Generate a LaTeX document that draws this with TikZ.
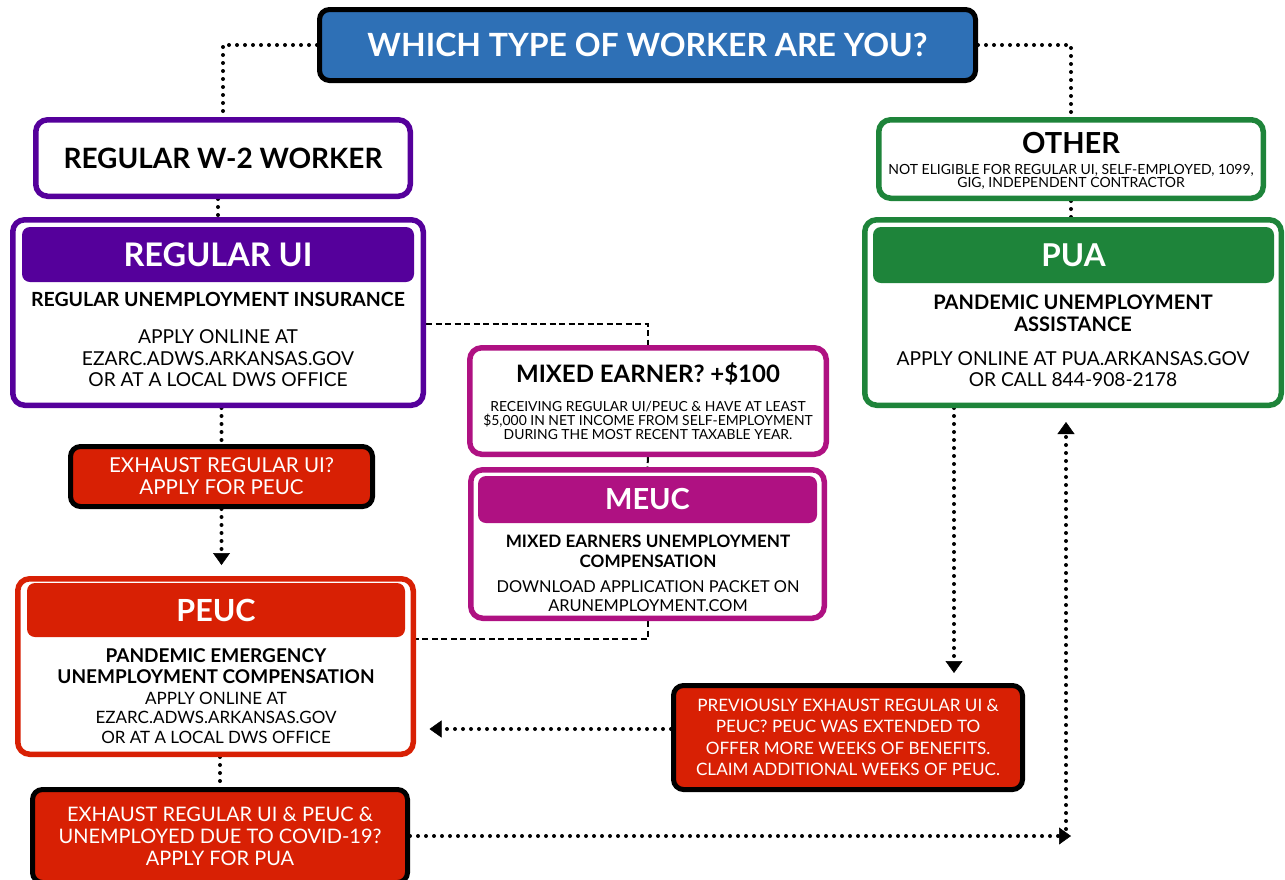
\documentclass[tikz,border=0pt]{standalone}
\usepackage{fontspec}
\setmainfont{Lato}
\usetikzlibrary{arrows.meta,calc}
\definecolor{tblue}{RGB}{46,112,182}
\definecolor{wpurple}{RGB}{85,0,155}
\definecolor{rred}{RGB}{216,32,4}
\definecolor{mmag}{RGB}{175,17,130}
\definecolor{ggreen}{RGB}{30,132,58}
\pgfdeclarelayer{bg}
\pgfsetlayers{bg,main}
\begin{document}
\begin{tikzpicture}[x=1pt,y=-1pt,
  box/.style={draw, line width=5.5pt, rounded corners=12pt, fill=white, inner sep=0pt},
  blackbox/.style={draw=black, line width=5pt, rounded corners=10pt, fill=rred, text=white, inner sep=0pt, align=center},
  band/.style={rounded corners=8pt, inner sep=0pt, text=white},
  subt/.style={font=\bfseries\fontsize{19.5}{21}\selectfont, align=center, inner sep=0pt},
  bodytext/.style={font=\fontsize{19.2}{21.5}\selectfont, align=center, inner sep=0pt},
  dotline/.style={line width=4pt, dash pattern=on 0pt off 8pt, line cap=round},
  dotarrow/.style={dotline, -{Triangle[width=17pt,length=12pt,line width=0.5pt]}, shorten >=11pt},
  dashline/.style={line width=2pt, dash pattern=on 6pt off 3.5pt}]
\useasboundingbox (0,0) rectangle (1285,879);

% title
\node[draw=black, line width=5pt, rounded corners=10pt, fill=tblue, text=white,
  minimum width=656pt, minimum height=71pt, inner sep=0pt,
  font=\bfseries\fontsize{32}{32}\selectfont] (title) at (647.5,45) {WHICH TYPE OF WORKER ARE YOU?};

% W-2
\node[box, draw=wpurple, minimum width=374.5pt, minimum height=76.5pt,
  font=\bfseries\fontsize{28}{28}\selectfont] (w2) at (223,158) {REGULAR W-2 WORKER};

% Regular UI
\node[box, draw=wpurple, minimum width=410.5pt, minimum height=185.5pt] (regui) at (218,312.5) {};
\node[band, fill=wpurple, minimum width=392pt, minimum height=55pt, font=\bfseries\fontsize{32.5}{32.5}\selectfont] (reguih) at (218,254.5) {REGULAR UI};
\node[subt] (reguis) at (218,299) {REGULAR UNEMPLOYMENT INSURANCE};
\node[bodytext] (reguib) at (218,358.5) {APPLY ONLINE AT\\EZARC.ADWS.ARKANSAS.GOV\\OR AT A LOCAL DWS OFFICE};

% Exhaust 1
\node[blackbox, minimum width=302pt, minimum height=60pt, font=\fontsize{20.5}{22}\selectfont] (exh1) at (221.5,476.5) {EXHAUST REGULAR UI?\\APPLY FOR PEUC};

% PEUC
\node[box, draw=rred, minimum width=395.5pt, minimum height=175.5pt] (peuc) at (215.5,666.5) {};
\node[band, fill=rred, minimum width=378pt, minimum height=54pt, font=\bfseries\fontsize{30.5}{30.5}\selectfont] (peuch) at (216,610) {PEUC};
\node[subt, font=\bfseries\fontsize{19}{21}\selectfont] (peucs) at (216,666.5) {PANDEMIC EMERGENCY\\UNEMPLOYMENT COMPENSATION};
\node[bodytext, font=\fontsize{17}{19.5}\selectfont] (peucb) at (216,717.5) {APPLY ONLINE AT\\EZARC.ADWS.ARKANSAS.GOV\\OR AT A LOCAL DWS OFFICE};

% Exhaust 2
\node[blackbox, minimum width=375pt, minimum height=93pt, font=\fontsize{20}{22}\selectfont] (exh2) at (220,836) {EXHAUST REGULAR UI \& PEUC \&\\UNEMPLOYED DUE TO COVID-19?\\APPLY FOR PUA};

% Mixed earner
\node[box, draw=mmag, minimum width=356.5pt, minimum height=106.5pt] (mixed) at (648,401) {};
\node[font=\bfseries\fontsize{24}{24}\selectfont, inner sep=0pt] (mixedt) at (648,374) {MIXED EARNER? +\$100};
\node[font=\fontsize{13.9}{13.8}\selectfont, align=center, inner sep=0pt] (mixeds) at (648,420.5) {RECEIVING REGULAR UI/PEUC \& HAVE AT LEAST\\\$5,000 IN NET INCOME FROM SELF-EMPLOYMENT\\DURING THE MOST RECENT TAXABLE YEAR.};

% MEUC
\node[box, draw=mmag, minimum width=353.5pt, minimum height=148.5pt] (meuc) at (647.5,544) {};
\node[band, fill=mmag, minimum width=339pt, minimum height=47pt, font=\bfseries\fontsize{29}{29}\selectfont] (meuch) at (647.5,499.5) {MEUC};
\node[subt, font=\bfseries\fontsize{17.1}{20}\selectfont] (meucs) at (648,551) {MIXED EARNERS UNEMPLOYMENT\\COMPENSATION};
\node[bodytext, font=\fontsize{16.4}{19}\selectfont] (meucb) at (648,596.5) {DOWNLOAD APPLICATION PACKET ON\\ARUNEMPLOYMENT.COM};

% Other
\node[box, draw=ggreen, minimum width=384.5pt, minimum height=78.5pt] (other) at (1071,159) {};
\node[font=\bfseries\fontsize{29}{29}\selectfont, inner sep=0pt] (othert) at (1071,143) {OTHER};
\node[font=\fontsize{14}{12.5}\selectfont, align=center, inner sep=0pt] (others) at (1071,177) {NOT ELIGIBLE FOR REGULAR UI, SELF-EMPLOYED, 1099,\\GIG, INDEPENDENT CONTRACTOR};

% PUA
\node[box, draw=ggreen, minimum width=416.5pt, minimum height=185.5pt] (pua) at (1073,312.5) {};
\node[band, fill=ggreen, minimum width=401pt, minimum height=56pt, font=\bfseries\fontsize{31.5}{31.5}\selectfont] (puah) at (1073.5,255) {PUA};
\node[subt, font=\bfseries\fontsize{20}{22}\selectfont] (puas) at (1073,313) {PANDEMIC UNEMPLOYMENT\\ASSISTANCE};
\node[bodytext] (puab) at (1073,369) {APPLY ONLINE AT PUA.ARKANSAS.GOV\\OR CALL 844-908-2178};

% Previously exhaust
\node[blackbox, minimum width=349pt, minimum height=104pt, font=\fontsize{17.1}{21.3}\selectfont] (prev) at (848,737.5) {PREVIOUSLY EXHAUST REGULAR UI \&\\PEUC? PEUC WAS EXTENDED TO\\OFFER MORE WEEKS OF BENEFITS.\\CLAIM ADDITIONAL WEEKS OF PEUC.};

\coordinate (hend) at (1071,836);
\coordinate (vstart) at (1066,829);
\coordinate (pl) at ([yshift=8.5pt]prev.west);
\coordinate (pd) at ([xshift=106pt]prev.north);
\coordinate (ds) at ([yshift=-11.5pt]regui.east);
\coordinate (de) at ([yshift=27.5pt]peuc.east);

\begin{pgfonlayer}{bg}
\draw[dotline] (title.west) -| (w2.north);
\draw[dotline] (title.east) -| (other.north);
\draw[dotline] (regui.north |- w2.south) -- (regui.north);
\draw[dotline] (other.south) -- (other.south |- pua.north);
\draw[dotline] (exh1.north |- regui.south) -- (exh1.north);
\draw[dotarrow] (exh1.south) -- (exh1.south |- peuc.north);
\draw[dotline] (exh2.north |- peuc.south) -- (exh2.north);
\draw[dotarrow, shorten >=0pt] (exh2.east) -- (hend);
\draw[dotarrow, shorten >=14pt] (vstart) -- (vstart |- pua.south);
\draw[dotarrow, shorten >=13.5pt] (pl) -- (pl -| peuc.east);
\draw[dotarrow, shorten >=10pt] (pd |- pua.south) -- (pd);
\draw[dashline] (ds) -| (mixed.north);
\draw[dashline] (mixed.south) -- (meuc.north);
\draw[dashline] (meuc.south) |- (de);
\end{pgfonlayer}
\end{tikzpicture}
\end{document}
